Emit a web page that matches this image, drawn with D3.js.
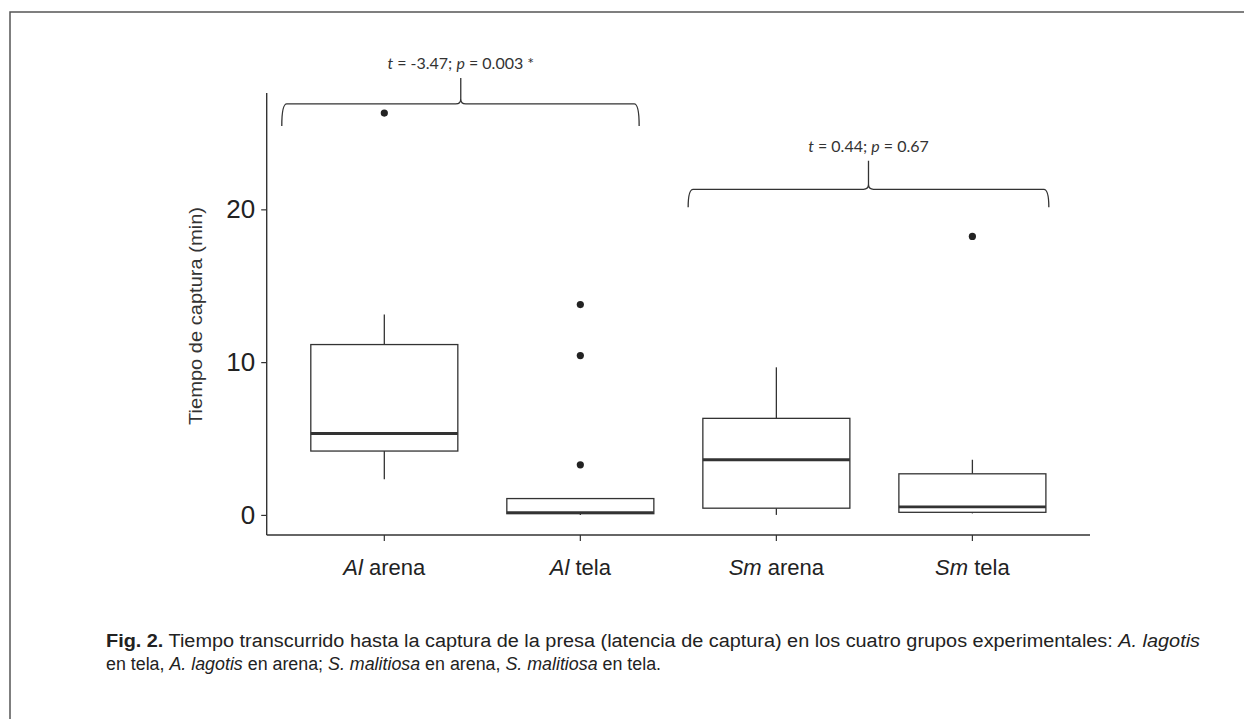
<!DOCTYPE html>
<html>
<head>
<meta charset="utf-8">
<script src="https://cdn.jsdelivr.net/npm/d3@7"></script>
<style>
  html, body { margin: 0; padding: 0; background: #fff; overflow: hidden; }
  svg { display: block; }
</style>
</head>
<body>
<script>
// ---- data ----
const categories = ["Al arena", "Al tela", "Sm arena", "Sm tela"];
const catItalic = ["Al", "Al", "Sm", "Sm"];
const catRest = [" arena", " tela", " arena", " tela"];
const whiskerLow = [2.34, 0.0, 0.0, 0.10];
const q1 = [4.18, 0.08, 0.44, 0.17];
const median = [5.33, 0.15, 3.61, 0.52];
const q3 = [11.15, 1.07, 6.32, 2.69];
const whiskerHigh = [13.11, 1.07, 9.66, 3.61];
const outliers = [[26.3], [3.28, 10.43, 13.77], [], [18.23]];
const yTicks = [0, 10, 20];
const yTitle = "Tiempo de captura (min)";

// bracket annotations: x in category units (1..4), y in data units
const bracketX0 = [0.477, 2.55];
const bracketX1 = [2.30, 4.39];
const bracketXm = [1.39, 3.47];
const bracketY = [26.9, 21.31];
const bracketYEnd = [25.46, 20.13];
const bracketYTip = [28.6, 23.18];
const bracketT = ["-3.47", "0.44"];
const bracketP = ["0.003 *", "0.67"];

(function () {
const W = 1244, H = 719;
const svg = d3.select("body").append("svg").attr("width", W).attr("height", H);

// frame: only top & left edges visible within the picture
svg.append("path").attr("d", `M10,${H}V12H${W}`)
  .attr("fill", "none").attr("stroke", "#555").attr("stroke-width", 1.5);

const pL = 266.7, pR = 1090, pT = 93, pB = 535;
const y = d3.scaleLinear().domain([-1.315, 27.615]).range([pB, pT]);
const x = d3.scaleBand().domain(categories).range([pL, pR]).paddingInner(0).paddingOuter(0.1);
const xc = d3.scaleLinear().domain([0.4, 4.6]).range([pL, pR]);
const bw = x.bandwidth() * 0.75;
const cx = c => x(c) + x.bandwidth() / 2;

const font = "'Liberation Sans', Arial, sans-serif";
const ink = "#333";

// boxes
const g = svg.append("g");
categories.forEach((c, i) => {
  const xm = cx(c);
  g.append("line").attr("x1", xm).attr("x2", xm).attr("y1", y(q3[i])).attr("y2", y(whiskerHigh[i]))
    .attr("stroke", ink).attr("stroke-width", 1.3);
  g.append("line").attr("x1", xm).attr("x2", xm).attr("y1", y(q1[i])).attr("y2", y(whiskerLow[i]))
    .attr("stroke", ink).attr("stroke-width", 1.3);
  g.append("rect").attr("x", xm - bw / 2).attr("width", bw)
    .attr("y", y(q3[i])).attr("height", y(q1[i]) - y(q3[i]))
    .attr("fill", "#fff").attr("stroke", ink).attr("stroke-width", 1.3);
  g.append("line").attr("x1", xm - bw / 2).attr("x2", xm + bw / 2)
    .attr("y1", y(median[i])).attr("y2", y(median[i]))
    .attr("stroke", ink).attr("stroke-width", 2.8);
  g.selectAll(null).data(outliers[i]).enter().append("circle")
    .attr("cx", xm).attr("cy", d => y(d)).attr("r", 3.6).attr("fill", "#222");
});

// axes
const yAxis = svg.append("g").attr("transform", `translate(${pL},0)`)
  .call(d3.axisLeft(y).tickValues(yTicks).tickSize(5.5).tickPadding(6));
yAxis.select(".domain").attr("d", `M0,${pT}V${pB}`).attr("stroke", ink).attr("stroke-width", 1.4);
yAxis.selectAll(".tick line").attr("stroke", ink).attr("stroke-width", 1.2);
yAxis.selectAll(".tick text").attr("font-family", font).attr("font-size", 26).attr("fill", "#222");

const xAxis = svg.append("g").attr("transform", `translate(0,${pB})`)
  .call(d3.axisBottom(x).tickSize(6).tickPadding(13));
xAxis.select(".domain").attr("d", `M${pL},0H${pR}`).attr("stroke", ink).attr("stroke-width", 1.4);
xAxis.selectAll(".tick line").attr("stroke", ink).attr("stroke-width", 1.2);
xAxis.selectAll(".tick text").each(function (d, i) {
  const t = d3.select(this).text(null).attr("font-family", font).attr("font-size", 22)
    .attr("fill", "#222").attr("dy", "0.95em");
  t.append("tspan").attr("font-style", "italic").text(catItalic[i]);
  t.append("tspan").text(catRest[i]);
});

// y title
svg.append("text").attr("transform", `translate(202,316) rotate(-90)`)
  .attr("text-anchor", "middle").attr("font-family", font).attr("font-size", 18.5)
  .attr("fill", "#333").attr("textLength", 218).attr("lengthAdjust", "spacingAndGlyphs")
  .text(yTitle);

// brackets
const annFont = "Lato, 'Open Sans', sans-serif";
bracketX0.forEach((_, i) => {
  const x0 = xc(bracketX0[i]), x1 = xc(bracketX1[i]), xm = xc(bracketXm[i]);
  const yh = y(bracketY[i]), ye = y(bracketYEnd[i]), yt = y(bracketYTip[i]);
  const r = 5;
  const p = d3.path();
  p.moveTo(x0, ye);
  p.quadraticCurveTo(x0, yh, x0 + r, yh);
  p.lineTo(xm - r, yh);
  p.quadraticCurveTo(xm, yh, xm, yh - r);
  p.lineTo(xm, yt);
  p.moveTo(xm, yh - r);
  p.quadraticCurveTo(xm, yh, xm + r, yh);
  p.lineTo(x1 - r, yh);
  p.quadraticCurveTo(x1, yh, x1, ye);
  svg.append("path").attr("d", p.toString()).attr("fill", "none")
    .attr("stroke", "#333").attr("stroke-width", 1.3);
  const t = svg.append("text").attr("x", xm).attr("y", yt - 9).attr("text-anchor", "middle")
    .attr("font-family", annFont).attr("font-size", 16).attr("fill", "#333");
  t.append("tspan").attr("font-style", "italic").text("t");
  t.append("tspan").text(" = " + bracketT[i] + "; ");
  t.append("tspan").attr("font-style", "italic").text("p");
  t.append("tspan").text(" = " + bracketP[i]);
});

// caption (condensed look: glyphs fitted to the line widths)
const capFont = "'Liberation Sans', Arial, sans-serif";
const cap1 = svg.append("text").attr("x", 106).attr("y", 647)
  .attr("font-family", capFont).attr("font-size", 18).attr("fill", "#222")
  .attr("textLength", 1094).attr("lengthAdjust", "spacingAndGlyphs");
cap1.append("tspan").attr("font-weight", "bold").text("Fig. 2.");
cap1.append("tspan").text(" Tiempo transcurrido hasta la captura de la presa (latencia de captura) en los cuatro grupos experimentales: ");
cap1.append("tspan").attr("font-style", "italic").text("A. lagotis");
const cap2 = svg.append("text").attr("x", 106).attr("y", 670)
  .attr("font-family", capFont).attr("font-size", 18).attr("fill", "#222")
  .attr("textLength", 555).attr("lengthAdjust", "spacingAndGlyphs");
cap2.append("tspan").text("en tela, ");
cap2.append("tspan").attr("font-style", "italic").text("A. lagotis");
cap2.append("tspan").text(" en arena; ");
cap2.append("tspan").attr("font-style", "italic").text("S. malitiosa");
cap2.append("tspan").text(" en arena, ");
cap2.append("tspan").attr("font-style", "italic").text("S. malitiosa");
cap2.append("tspan").text(" en tela.");
})();
</script>
</body>
</html>
